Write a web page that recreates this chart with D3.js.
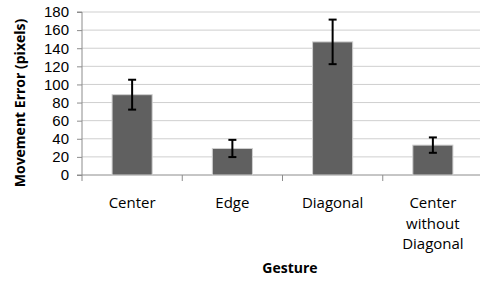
<!DOCTYPE html>
<html>
<head>
<meta charset="utf-8">
<script src="https://cdn.jsdelivr.net/npm/d3@7"></script>
<style>
  body { margin: 0; background: #fff; }
  svg { display: block; font-family: "Open Sans", sans-serif; }
</style>
</head>
<body>
<script>
// gesture categories and mean movement error with error bar half-widths
const gestures = ["Center", "Edge", "Diagonal", "Center\nwithout\nDiagonal"];
const meanError = [88.7, 29.3, 147, 33];
const errHalf = [16.5, 9.5, 24.6, 8.5];
const yTicks = [0, 20, 40, 60, 80, 100, 120, 140, 160, 180];

let margin = {top: 12, right: -3, bottom: 115, left: 82};
let width = 480 - margin.left - margin.right;
let height = 290 - margin.top - margin.bottom;

let svg = d3.select("body").append("svg")
  .attr("width", 480)
  .attr("height", 290);

let g = svg.append("g")
  .attr("transform", "translate(" + margin.left + "," + margin.top + ")");

let x = d3.scaleBand().domain(gestures).range([0, width]).paddingInner(0.6).paddingOuter(0.3);
let xb = d3.scaleBand().domain(gestures).range([0, width]); // band edges for tick marks
let y = d3.scaleLinear().domain([0, 180]).range([height, 0]);

// grid lines
g.selectAll(".grid").data(yTicks.slice(1)).enter().append("line")
  .attr("x1", 0).attr("x2", width)
  .attr("y1", d => y(d)).attr("y2", d => y(d))
  .attr("stroke", "#cfcfcf").attr("stroke-width", 1);

// y axis
let yAxis = g.append("g").call(d3.axisLeft(y).tickValues(yTicks).tickSize(5).tickPadding(8));
yAxis.select(".domain").attr("stroke", "#8c8c8c").attr("d", "M-5," + height + "H0V0H-5");
yAxis.selectAll(".tick line").attr("stroke", "#8c8c8c");
yAxis.selectAll("text").attr("font-size", 15).attr("fill", "#000");

// x axis line and category ticks
g.append("line").attr("x1", 0).attr("x2", width).attr("y1", height).attr("y2", height)
  .attr("stroke", "#8c8c8c");
g.selectAll(".xtick").data(gestures).enter().append("line")
  .attr("x1", d => xb(d)).attr("x2", d => xb(d))
  .attr("y1", height).attr("y2", height + 6)
  .attr("stroke", "#8c8c8c");

// bars
g.selectAll(".bar").data(gestures).enter().append("rect")
  .attr("x", d => x(d))
  .attr("width", x.bandwidth())
  .attr("y", (d, i) => y(meanError[i]))
  .attr("height", (d, i) => height - y(meanError[i]))
  .attr("fill", "#606060")
  .attr("stroke", "#d0d0d0").attr("stroke-width", 1);

// error bars
let eb = g.selectAll(".err").data(gestures).enter().append("g")
  .attr("transform", d => "translate(" + (x(d) + x.bandwidth() / 2) + ",0)")
  .attr("stroke", "#000").attr("stroke-width", 2);
eb.append("line").attr("y1", (d, i) => y(meanError[i] + errHalf[i])).attr("y2", (d, i) => y(meanError[i] - errHalf[i]));
eb.append("line").attr("x1", -4).attr("x2", 4)
  .attr("y1", (d, i) => y(meanError[i] + errHalf[i])).attr("y2", (d, i) => y(meanError[i] + errHalf[i]));
eb.append("line").attr("x1", -4).attr("x2", 4)
  .attr("y1", (d, i) => y(meanError[i] - errHalf[i])).attr("y2", (d, i) => y(meanError[i] - errHalf[i]));

// category labels
let labels = g.selectAll(".cat").data(gestures).enter().append("text")
  .attr("text-anchor", "middle")
  .attr("font-size", 15)
  .attr("fill", "#000")
  .attr("transform", d => "translate(" + (x(d) + x.bandwidth() / 2) + "," + (height + 33) + ")");
labels.selectAll("tspan").data(d => d.split("\n")).enter().append("tspan")
  .attr("x", 0).attr("dy", (d, i) => i ? 20.5 : 0).text(d => d);

// axis titles
svg.append("text")
  .attr("x", 290).attr("y", 273)
  .attr("text-anchor", "middle").attr("font-size", 14).attr("font-weight", "bold")
  .text("Gesture");
svg.append("text")
  .attr("transform", "translate(25,103) rotate(-90)")
  .attr("text-anchor", "middle").attr("font-size", 14).attr("font-weight", "bold")
  .text("Movement Error (pixels)");
</script>
</body>
</html>
